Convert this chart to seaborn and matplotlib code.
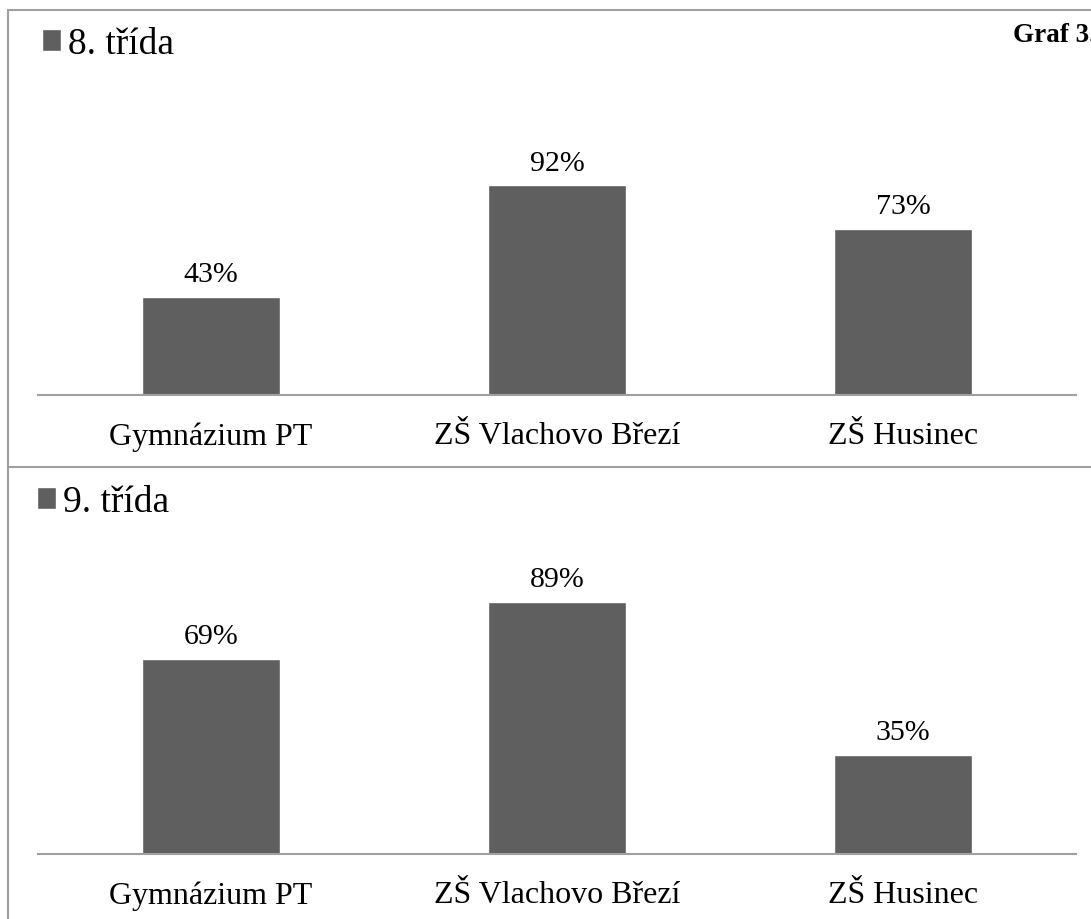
import matplotlib
matplotlib.use("Agg")
import matplotlib.pyplot as plt
from matplotlib.lines import Line2D
import seaborn as sns
import pandas as pd

# data
skoly = ["Gymnázium PT", "ZŠ Vlachovo Březí", "ZŠ Husinec"]
trida_8 = [43, 92, 73]
trida_9 = [69, 89, 35]
nazev_8 = "8. třída"
nazev_9 = "9. třída"

BAR = "#5f5f5f"
GRID = "#a0a0a0"

sns.set_style("white")
plt.rcParams["font.family"] = ["Liberation Serif", "DejaVu Serif"]
plt.rcParams["text.color"] = "black"
plt.rcParams["xtick.color"] = "black"

W, H = 1091, 920
fig = plt.figure(figsize=(W / 100, H / 100), dpi=100)


def px_box(x0, x1, y_base, y_top):
    # px coordinates (top-left origin) -> figure fraction rect
    return [x0 / W, 1 - y_base / H, (x1 - x0) / W, (y_base - y_top) / H]


def panel(rect, values, name, ymax, legend_xy):
    ax = fig.add_axes(rect)
    df = pd.DataFrame({"skola": skoly, "hodnota": values})
    sns.barplot(data=df, x="skola", y="hodnota", color=BAR, saturation=1,
                width=0.4, label=name, ax=ax)
    ax.set_xlim(-0.5, 2.5)
    ax.set_ylim(0, ymax)
    ax.set_xlabel("")
    ax.set_ylabel("")
    ax.set_yticks([])
    ax.tick_params(axis="x", length=0, pad=19, labelsize=23, labelcolor="black")
    for s in ["top", "left", "right"]:
        ax.spines[s].set_visible(False)
    ax.spines["bottom"].set_color(GRID)
    ax.spines["bottom"].set_linewidth(1.5)
    ax.bar_label(ax.containers[0], labels=[f"{v}%" for v in values],
                 padding=7, fontsize=21.5, color="black")
    ax.legend(loc="center left", bbox_to_anchor=legend_xy,
              bbox_transform=fig.transFigure, frameon=False, fontsize=27,
              handlelength=0.5, handleheight=0.5, handletextpad=0.2,
              borderpad=0, borderaxespad=0, labelcolor="black")
    return ax


# horni graf: 2.28 px na procento, dolni 2.83 px
panel(px_box(38, 1076, 396, 70), trida_8, nazev_8, 326 / 2.28,
      (42 / W, 1 - 45 / H))
panel(px_box(38, 1076, 855, 540), trida_9, nazev_9, 315 / 2.83,
      (37 / W, 1 - 503 / H))

# ramecky
for xs, ys in [([8, 8], [11, 920]), ([8, W], [11, 11]), ([8, W], [468, 468])]:
    fig.add_artist(Line2D([x / W for x in xs], [1 - y / H for y in ys],
                          color=GRID, linewidth=1.5, transform=fig.transFigure))

fig.text(1013 / W, 1 - 35 / H, "Graf 3.", fontsize=19.5, fontweight="bold",
         va="center", ha="left")

plt.savefig("out.png", dpi=100)
plt.close()
